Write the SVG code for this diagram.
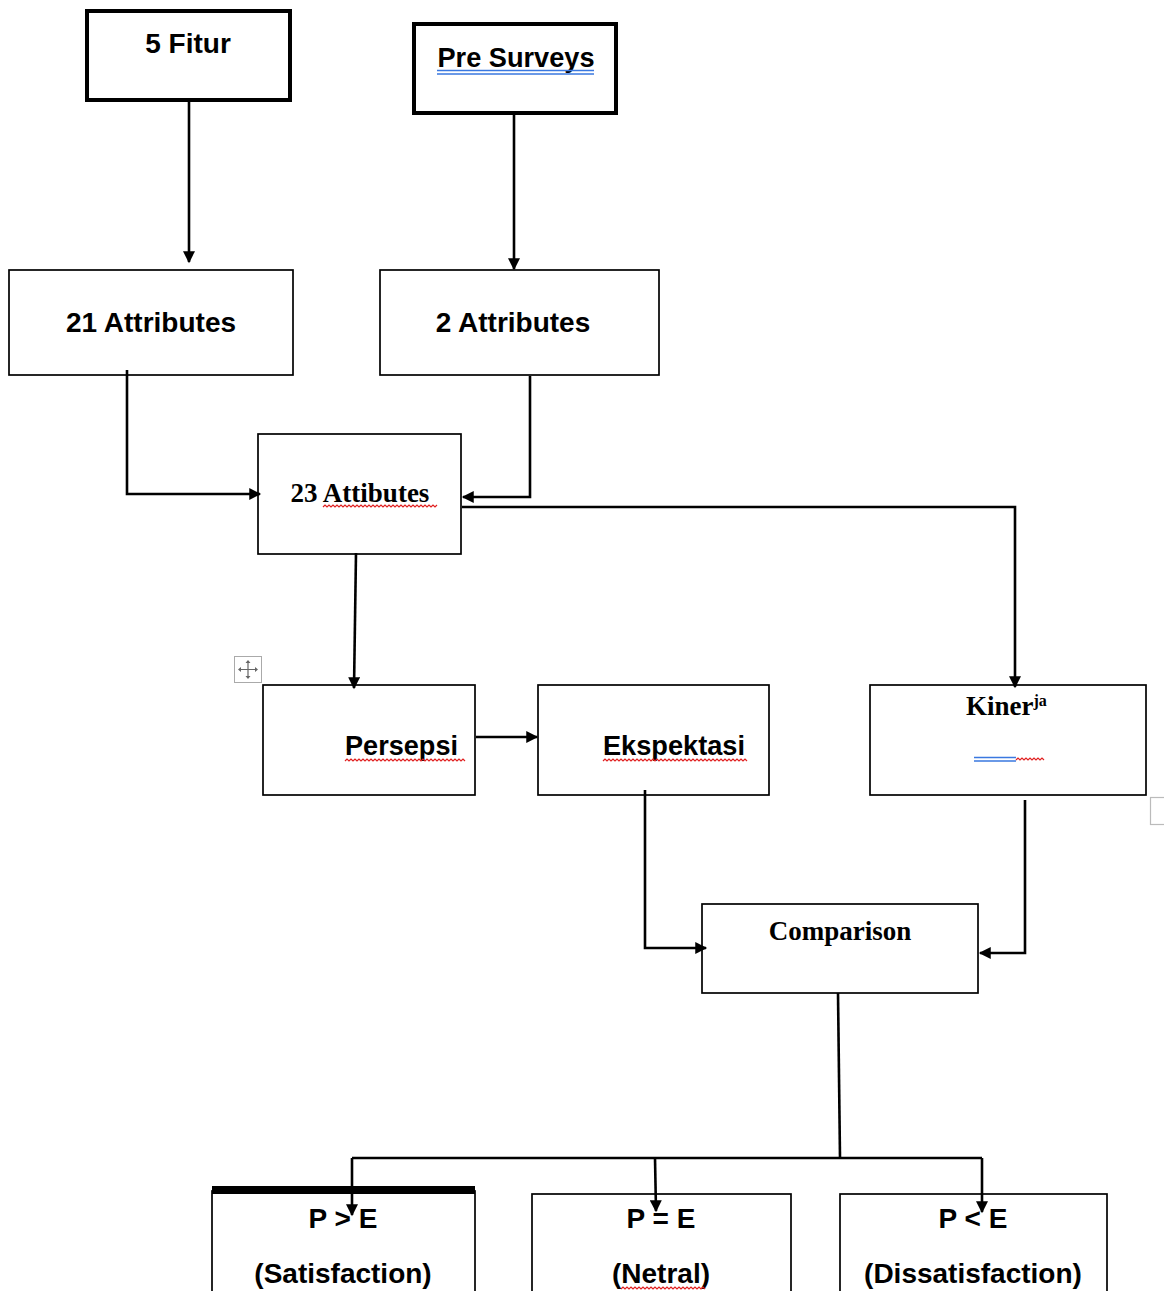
<svg xmlns="http://www.w3.org/2000/svg" width="1164" height="1291" viewBox="0 0 1164 1291">
<style>
.box{fill:#fff;stroke:#000;stroke-width:1.7}
.thick{fill:#fff;stroke:#000;stroke-width:4}
.sans{font-family:"Liberation Sans",Arial,sans-serif;font-weight:bold;font-size:28px;fill:#000}
.serif{font-family:"Liberation Serif","Times New Roman",serif;font-weight:bold;font-size:27px;fill:#000}
.conn{fill:none;stroke:#000;stroke-width:2.6}
.wavy{fill:none;stroke:#e02020;stroke-width:1.2}
.blue{fill:none;stroke:#3a78e0;stroke-width:1.5}
</style>
<defs>
<marker id="arr" viewBox="0 0 10 10" refX="9" refY="5" markerWidth="5" markerHeight="4.6" orient="auto" markerUnits="strokeWidth">
<path d="M0,0 L10,5 L0,10 z" fill="#000"/>
</marker>
</defs>
<rect width="1164" height="1291" fill="#fff"/>

<g id="node-5fitur">
<rect class="thick" x="87" y="11" width="203" height="89"/>
<text class="sans" x="188" y="53" text-anchor="middle">5 Fitur</text>
</g>

<g id="node-presurveys">
<rect class="thick" x="414" y="24" width="202" height="89"/>
<text class="sans" x="516" y="67" text-anchor="middle" textLength="157" lengthAdjust="spacingAndGlyphs">Pre Surveys</text>
<path class="blue" d="M437,70.5 H594 M437,74 H594"/>
</g>

<g id="node-21attr">
<rect class="box" x="9" y="270" width="284" height="105"/>
<text class="sans" x="151" y="332" text-anchor="middle">21 Attributes</text>
</g>

<g id="node-2attr">
<rect class="box" x="380" y="270" width="279" height="105"/>
<text class="sans" x="513" y="332" text-anchor="middle">2 Attributes</text>
</g>

<g id="node-23attr">
<rect class="box" x="258" y="434" width="203" height="120"/>
<text class="serif" x="360" y="502" text-anchor="middle" font-size="28">23 Attibutes</text>
<path class="wavy" d="M323,507 l2,-2 l2,2 l2,-2 l2,2 l2,-2 l2,2 l2,-2 l2,2 l2,-2 l2,2 l2,-2 l2,2 l2,-2 l2,2 l2,-2 l2,2 l2,-2 l2,2 l2,-2 l2,2 l2,-2 l2,2 l2,-2 l2,2 l2,-2 l2,2 l2,-2 l2,2 l2,-2 l2,2 l2,-2 l2,2 l2,-2 l2,2 l2,-2 l2,2 l2,-2 l2,2 l2,-2 l2,2 l2,-2 l2,2 l2,-2 l2,2 l2,-2 l2,2 l2,-2 l2,2 l2,-2 l2,2 l2,-2 l2,2 l2,-2 l2,2 l2,-2 l2,2 l2,-2"/>
</g>

<g id="move-handle">
<rect x="234.5" y="656.5" width="27" height="26" fill="#fff" stroke="#aaa" stroke-width="1"/>
<path d="M248,661 V678 M239,669.5 H257" stroke="#666" stroke-width="1.2" fill="none"/>
<path d="M248,660 l-2.5,3 h5 z M248,679 l-2.5,-3 h5 z M238,669.5 l3,-2.5 v5 z M258,669.5 l-3,-2.5 v5 z" fill="#666"/>
</g>

<g id="node-persepsi">
<rect class="box" x="263" y="685" width="212" height="110"/>
<text class="sans" x="345" y="755" font-size="27" textLength="113" lengthAdjust="spacingAndGlyphs">Persepsi</text>
<path class="wavy" d="M345,761 l2,-2 l2,2 l2,-2 l2,2 l2,-2 l2,2 l2,-2 l2,2 l2,-2 l2,2 l2,-2 l2,2 l2,-2 l2,2 l2,-2 l2,2 l2,-2 l2,2 l2,-2 l2,2 l2,-2 l2,2 l2,-2 l2,2 l2,-2 l2,2 l2,-2 l2,2 l2,-2 l2,2 l2,-2 l2,2 l2,-2 l2,2 l2,-2 l2,2 l2,-2 l2,2 l2,-2 l2,2 l2,-2 l2,2 l2,-2 l2,2 l2,-2 l2,2 l2,-2 l2,2 l2,-2 l2,2 l2,-2 l2,2 l2,-2 l2,2 l2,-2 l2,2 l2,-2 l2,2 l2,-2 l2,2"/>
</g>

<g id="node-ekspektasi">
<rect class="box" x="538" y="685" width="231" height="110"/>
<text class="sans" x="603" y="755" font-size="27" textLength="142" lengthAdjust="spacingAndGlyphs">Ekspektasi</text>
<path class="wavy" d="M603,761 l2,-2 l2,2 l2,-2 l2,2 l2,-2 l2,2 l2,-2 l2,2 l2,-2 l2,2 l2,-2 l2,2 l2,-2 l2,2 l2,-2 l2,2 l2,-2 l2,2 l2,-2 l2,2 l2,-2 l2,2 l2,-2 l2,2 l2,-2 l2,2 l2,-2 l2,2 l2,-2 l2,2 l2,-2 l2,2 l2,-2 l2,2 l2,-2 l2,2 l2,-2 l2,2 l2,-2 l2,2 l2,-2 l2,2 l2,-2 l2,2 l2,-2 l2,2 l2,-2 l2,2 l2,-2 l2,2 l2,-2 l2,2 l2,-2 l2,2 l2,-2 l2,2 l2,-2 l2,2 l2,-2 l2,2 l2,-2 l2,2 l2,-2 l2,2 l2,-2 l2,2 l2,-2 l2,2 l2,-2 l2,2 l2,-2 l2,2"/>
</g>

<g id="node-kinerja">
<rect class="box" x="870" y="685" width="276" height="110"/>
<text class="serif" x="966" y="715">Kiner<tspan font-size="16" dy="-9">ja</tspan></text>
<path class="blue" d="M974,757.5 H1016 M974,761 H1016"/>
<path class="wavy" d="M1016,760 l2,-2 l2,2 l2,-2 l2,2 l2,-2 l2,2 l2,-2 l2,2 l2,-2 l2,2 l2,-2 l2,2 l2,-2 l2,2"/>
</g>

<g id="artifact-square">
<rect x="1150.5" y="797.5" width="20" height="27" fill="#fff" stroke="#bbb" stroke-width="1.2"/>
</g>

<g id="node-comparison">
<rect class="box" x="702" y="904" width="276" height="89"/>
<text class="serif" x="840" y="940" text-anchor="middle">Comparison</text>
</g>

<g id="node-satisfaction">
<rect class="box" x="212" y="1191" width="263" height="110"/>
<rect x="212" y="1186" width="263" height="8" fill="#000"/>
<text class="sans" x="343" y="1228" text-anchor="middle">P &gt; E</text>
<text class="sans" x="343" y="1283" text-anchor="middle">(Satisfaction)</text>
</g>

<g id="node-netral">
<rect class="box" x="532" y="1194" width="259" height="110"/>
<text class="sans" x="661" y="1228" text-anchor="middle">P = E</text>
<text class="sans" x="661" y="1283" text-anchor="middle">(Netral)</text>
<path class="wavy" d="M621,1289 l2,-2 l2,2 l2,-2 l2,2 l2,-2 l2,2 l2,-2 l2,2 l2,-2 l2,2 l2,-2 l2,2 l2,-2 l2,2 l2,-2 l2,2 l2,-2 l2,2 l2,-2 l2,2 l2,-2 l2,2 l2,-2 l2,2 l2,-2 l2,2 l2,-2 l2,2 l2,-2 l2,2 l2,-2 l2,2 l2,-2 l2,2 l2,-2 l2,2 l2,-2 l2,2 l2,-2 l2,2 l2,-2 l2,2"/>
</g>

<g id="node-dissatisfaction">
<rect class="box" x="840" y="1194" width="267" height="110"/>
<text class="sans" x="973" y="1228" text-anchor="middle">P &lt; E</text>
<text class="sans" x="973" y="1283" text-anchor="middle">(Dissatisfaction)</text>
</g>

<g id="connectors">
<path class="conn" d="M189,100 V262" marker-end="url(#arr)"/>
<path class="conn" d="M514,113 V269" marker-end="url(#arr)"/>
<path class="conn" d="M127,370 V494 H260" marker-end="url(#arr)"/>
<path class="conn" d="M530,376 V497 H463" marker-end="url(#arr)"/>
<path class="conn" d="M462,507 H1015 V687" marker-end="url(#arr)"/>
<path class="conn" d="M356,553 L354,688" marker-end="url(#arr)"/>
<path class="conn" d="M476,737 H537" marker-end="url(#arr)"/>
<path class="conn" d="M645,790 V948 H706" marker-end="url(#arr)"/>
<path class="conn" d="M1025,800 V953 H980" marker-end="url(#arr)"/>
<path class="conn" d="M838,993 L840,1158"/>
<path class="conn" d="M352,1158 H982"/>
<path class="conn" d="M352,1158 V1215" marker-end="url(#arr)"/>
<path class="conn" d="M655,1158 L656,1211" marker-end="url(#arr)"/>
<path class="conn" d="M982,1158 V1212" marker-end="url(#arr)"/>
</g>
</svg>
